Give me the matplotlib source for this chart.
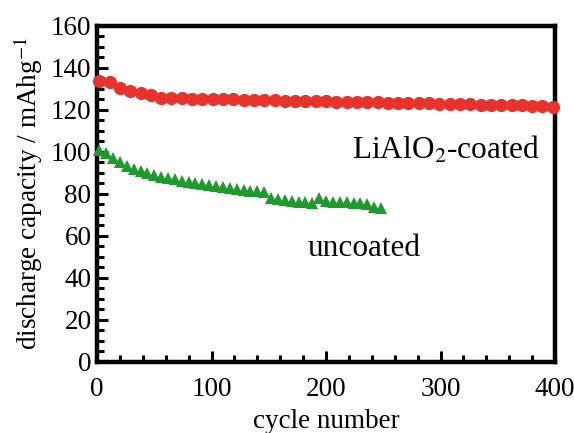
import numpy as np
import matplotlib
matplotlib.use("Agg")
import matplotlib.pyplot as plt
from matplotlib.ticker import MultipleLocator

# Data
coated_cycles = [2, 11, 20, 29, 38, 47, 56, 65, 74, 83, 92, 101, 110, 119, 128,
                 137, 146, 155, 164, 173, 182, 191, 200, 209, 218, 227, 236, 245,
                 254, 263, 272, 281, 290, 299, 308, 317, 326, 335, 344, 353, 362,
                 371, 380, 389, 398]
coated_capacity = [133.8, 133.5, 130.5, 129.0, 128.0, 127.0, 125.8, 125.6, 125.5,
                   125.4, 125.3, 125.2, 125.1, 125.0, 124.9, 124.8, 124.7, 124.6,
                   124.5, 124.4, 124.3, 124.2, 124.1, 124.0, 123.9, 123.8, 123.7,
                   123.6, 123.5, 123.4, 123.3, 123.2, 123.1, 123.0, 122.9, 122.8,
                   122.7, 122.6, 122.5, 122.4, 122.3, 122.2, 122.0, 121.8, 121.5]

uncoated_cycles = [2, 8, 14, 20, 26, 32, 38, 44, 50, 56, 62, 68, 74, 80, 86, 92,
                   98, 104, 110, 116, 122, 128, 134, 140, 146, 152, 158, 164, 170,
                   176, 182, 188, 194, 200, 206, 212, 218, 224, 230, 236, 242, 248]
uncoated_capacity = [101.0, 99.5, 97.0, 95.0, 93.5, 92.0, 91.0, 90.0, 89.0, 88.3,
                     87.6, 87.0, 86.4, 85.8, 85.3, 84.8, 84.3, 83.8, 83.4, 83.0,
                     82.5, 82.0, 81.6, 81.2, 80.8, 78.0, 77.6, 77.2, 76.8, 76.4,
                     76.0, 75.8, 78.0, 76.5, 76.3, 76.0, 76.0, 75.8, 75.5, 75.3,
                     74.0, 73.5]

x_ticks = [0, 100, 200, 300, 400]
y_ticks = [0, 20, 40, 60, 80, 100, 120, 140, 160]

plt.rcParams['font.family'] = ['Liberation Serif', 'DejaVu Serif']
plt.rcParams['mathtext.fontset'] = 'stix'

fig = plt.figure(figsize=(5.74, 4.33), dpi=100)
ax = fig.add_axes([0.169, 0.164, 0.798, 0.776])

ax.plot(coated_cycles, coated_capacity, linestyle='none', marker='o',
        markersize=9.5, color='#e8322b', markeredgewidth=0, clip_on=False, zorder=3)
ax.plot(uncoated_cycles, uncoated_capacity, linestyle='none', marker='^',
        markersize=8.5, color='#1f9a2c', markeredgewidth=0, clip_on=False, zorder=3)

ax.set_xlim(0, 400)
ax.set_ylim(0, 160)
ax.set_xticks(x_ticks)
ax.set_yticks(y_ticks)
ax.xaxis.set_minor_locator(MultipleLocator(20))
ax.yaxis.set_minor_locator(MultipleLocator(5))

for s in ax.spines.values():
    s.set_linewidth(3.2)
    s.set_color('black')

ax.tick_params(which='both', direction='in', top=False, right=False,
               width=2.2, labelsize=19.5, colors='black')
ax.tick_params(which='major', length=8)
ax.tick_params(which='minor', length=5)
ax.tick_params(axis='x', which='major', pad=11)
ax.tick_params(axis='y', which='major', pad=4)

ax.set_xlabel('cycle number', fontsize=19.5, labelpad=5)
ax.set_ylabel('discharge capacity / mAhg$^{-1}$', fontsize=19.5, labelpad=4)

ax.text(0.967, 0.631, 'LiAlO$_2$-coated', transform=ax.transAxes, fontsize=22.5,
        ha='right', va='center')
ax.text(0.459, 0.339, 'uncoated', transform=ax.transAxes, fontsize=22.5,
        ha='left', va='center')

fig.savefig('out.png', dpi=100)
